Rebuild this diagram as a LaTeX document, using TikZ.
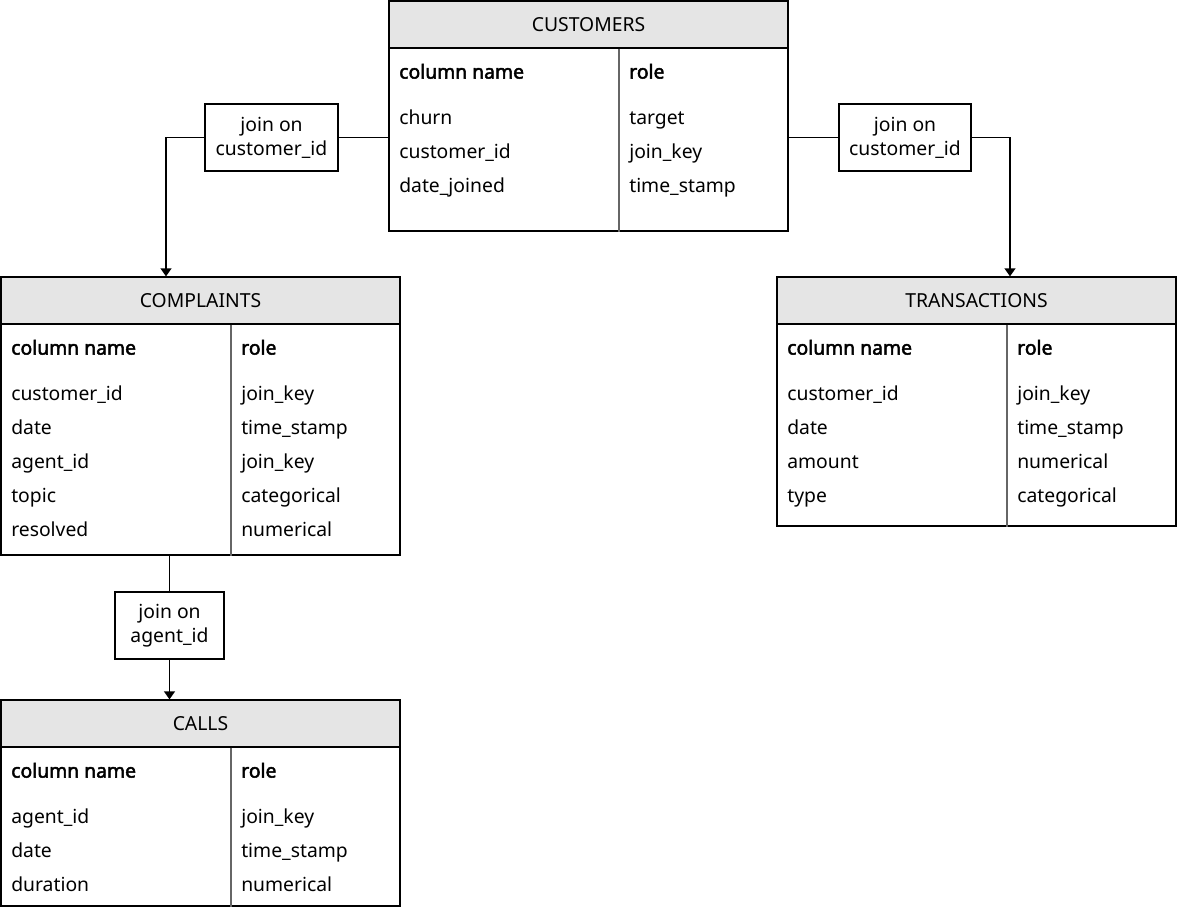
\documentclass[tikz,border=0pt]{standalone}
\usepackage{fontspec}
\setmainfont{Noto Sans}[AutoFakeBold=2.5]
\usetikzlibrary{arrows.meta,positioning}

\begin{document}
\begin{tikzpicture}[x=0.75pt,y=-0.75pt,font=\fontsize{14.5}{18}\selectfont,
	frame/.style={draw=black,line width=0.9pt,minimum width=299.25pt,inner sep=0pt},
	head/.style={draw=black,fill=gray!20,line width=0.9pt,minimum width=299.25pt,minimum height=35.25pt,inner sep=0pt,anchor=north},
	cell/.style={anchor=mid west,inner sep=0pt},
	bold/.style={cell,font=\fontsize{14.5}{18}\selectfont\bfseries},
	joinbox/.style={draw=black,line width=0.9pt,align=center,inner sep=0pt,minimum height=50.25pt},
	split/.style={draw=gray!80!black,line width=0.9pt},
	link/.style={line width=1.4pt},
	linkarrow/.style={link,-{Triangle[width=8pt,length=6pt]}}]
\useasboundingbox (0,0) rectangle (1177,907);

% customers
\node[frame,minimum height=172.5pt] at (588.5,116) (cust) {};
\node[head] at (cust.north) (custh) {CUSTOMERS};
\draw[split] (custh.south -| 619,0) -- (cust.south -| 619,0);
\node[bold] at (399,75) (cust-n0) {column name};
\node[bold] at (629,75) (cust-r0) {role};
\foreach \c/\r [count=\i] in {churn/target,customer\_id/join\_key,date\_joined/time\_stamp}{
	\node[cell] at (399,87+34*\i) (cust-n\i) {\c};
	\node[cell] at (629,87+34*\i) (cust-r\i) {\r};
}

% complaints
\node[frame,minimum height=208.5pt] at (200.5,416) (comp) {};
\node[head] at (comp.north) (comph) {COMPLAINTS};
\draw[split] (comph.south -| 231,0) -- (comp.south -| 231,0);
\node[bold] at (11,351) (comp-n0) {column name};
\node[bold] at (241,351) (comp-r0) {role};
\foreach \c/\r [count=\i] in {customer\_id/join\_key,date/time\_stamp,agent\_id/join\_key,topic/categorical,resolved/numerical}{
	\node[cell] at (11,363+34*\i) (comp-n\i) {\c};
	\node[cell] at (241,363+34*\i) (comp-r\i) {\r};
}

% transactions
\node[frame,minimum height=186.75pt] at (976.5,401.5) (trans) {};
\node[head] at (trans.north) (transh) {TRANSACTIONS};
\draw[split] (transh.south -| 1007,0) -- (trans.south -| 1007,0);
\node[bold] at (787,351) (trans-n0) {column name};
\node[bold] at (1017,351) (trans-r0) {role};
\foreach \c/\r [count=\i] in {customer\_id/join\_key,date/time\_stamp,amount/numerical,type/categorical}{
	\node[cell] at (787,363+34*\i) (trans-n\i) {\c};
	\node[cell] at (1017,363+34*\i) (trans-r\i) {\r};
}

% calls
\node[frame,minimum height=154.5pt] at (200.5,803) (calls) {};
\node[head] at (calls.north) (callsh) {CALLS};
\draw[split] (callsh.south -| 231,0) -- (calls.south -| 231,0);
\node[bold] at (11,774) (calls-n0) {column name};
\node[bold] at (241,774) (calls-r0) {role};
\foreach \c/\r [count=\i] in {agent\_id/join\_key,date/time\_stamp,duration/numerical}{
	\node[cell] at (11,786+34*\i) (calls-n\i) {\c};
	\node[cell] at (241,786+34*\i) (calls-r\i) {\r};
}

% joins
\node[joinbox,minimum width=99.75pt] at (271.5,137.5) (jl) {join on\\customer\_id};
\node[joinbox,minimum width=99pt] at (905,137.5) (jr) {join on\\customer\_id};
\node[joinbox,minimum width=81.75pt] at (169.5,625.5) (ja) {join on\\agent\_id};

\draw[link] (cust.west |- jl) -- (jl.east);
\draw[linkarrow] (jl.west) -| (comph.north -| 166,0);
\draw[link] (cust.east |- jr) -- (jr.west);
\draw[linkarrow] (jr.east) -| (transh.north -| 1010,0);
\draw[link] (comp.south -| ja) -- (ja.north);
\draw[linkarrow] (ja.south) -- (callsh.north -| ja);
\end{tikzpicture}
\end{document}
